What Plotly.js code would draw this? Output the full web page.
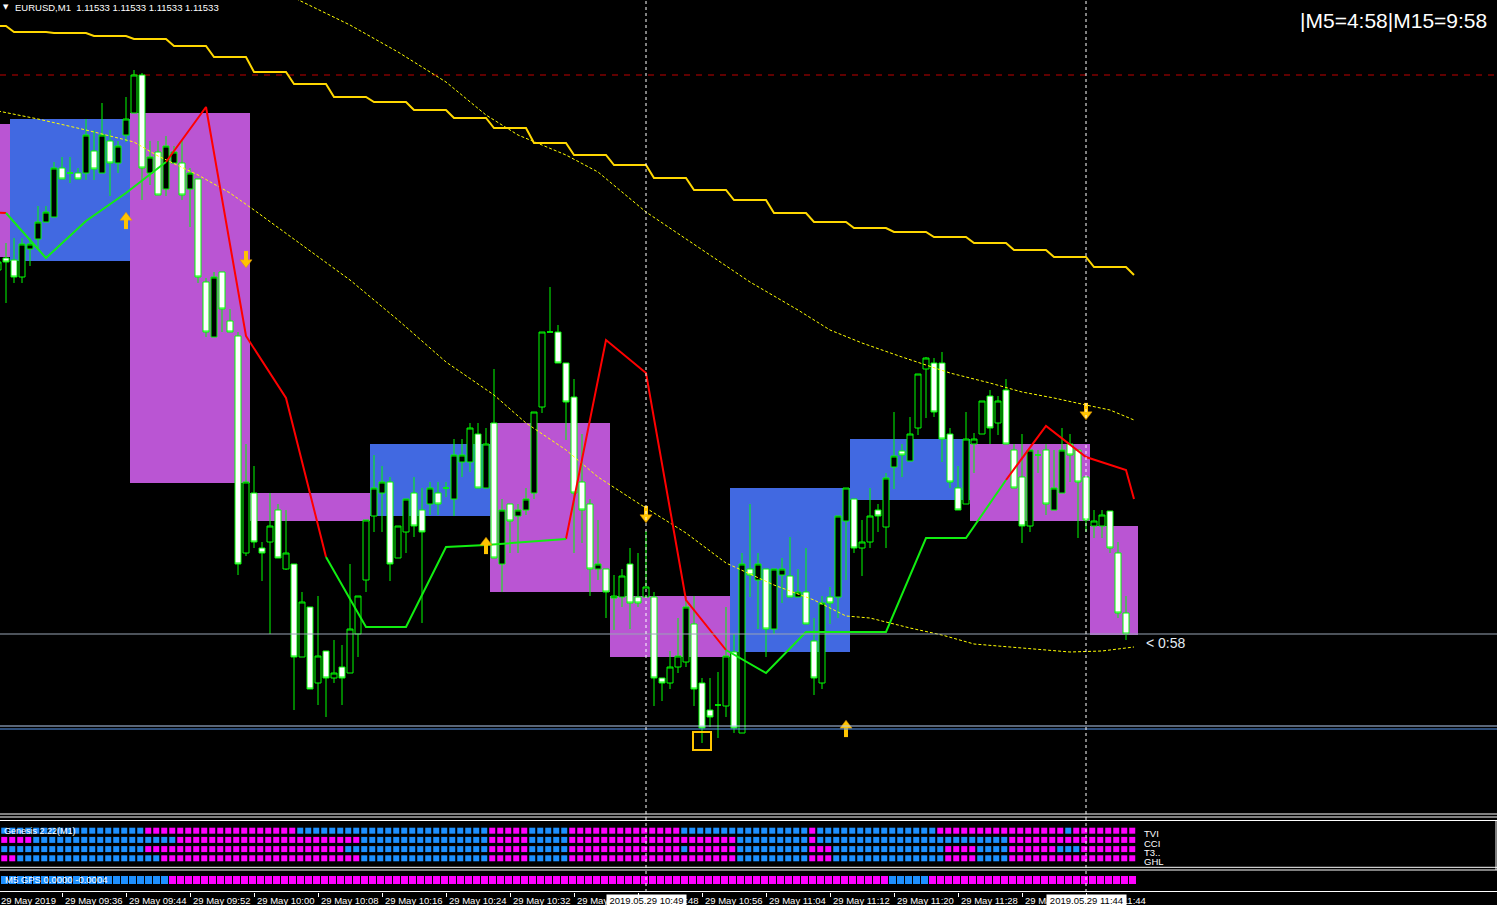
<!DOCTYPE html>
<html><head><meta charset="utf-8">
<script src="https://cdn.plot.ly/plotly-3.0.1.min.js"></script>
<style>html,body{margin:0;padding:0;background:#000;overflow:hidden}#chart{width:1497px;height:905px}</style>
</head><body><div id="chart"></div>
<script>
// ---------------- DATA ----------------
const symbol = "EURUSD,M1";
// bar index 0 = 29 May 2019 09:28 (M1 bars)
const open = [1.11715,1.11721,1.1172,1.117115,1.117255,1.117305,1.11739,1.117415,1.11766,1.117635,
1.117635,1.117635,1.117745,1.117635,1.117795,1.117685,1.117825,1.117935,1.118125,1.117635,
1.11774,1.117555,1.117685,1.117685,1.117555,1.117605,1.11709,1.116815,1.11714,1.116895,
1.11682,1.115735,1.116035,1.11576,1.11579,1.11595,1.115655,1.11568,1.115215,1.115465,
1.115085,1.115245,1.11511,1.115165,1.115135,1.11533,1.1156,1.11592,1.116035,1.11609,
1.11571,1.11584,1.116035,1.11595,1.11598,1.116035,1.11606,1.116005,1.11619,1.11619,
1.11633,1.11606,1.116385,1.11568,1.11598,1.11592,1.11595,1.116035,1.116465,1.11684,
1.11684,1.116685,1.116515,1.11609,1.11598,1.115655,1.115655,1.11551,1.115515,1.11568,
1.115515,1.115515,1.115515,1.11511,1.115085,1.115165,1.11519,1.11538,1.115085,1.11495,
1.114975,1.11497,1.11524,1.114835,1.115655,1.1156,1.115655,1.115355,1.115625,1.11562,
1.115515,1.11554,1.115295,1.115085,1.115515,1.115515,1.115895,1.116005,1.11576,1.11579,
1.11595,1.115865,1.116165,1.116245,1.116195,1.11636,1.116655,1.116685,1.116685,1.11633,
1.11606,1.11598,1.11628,1.11633,1.11652,1.116385,1.11655,1.11625,1.116115,1.11587,
1.116225,1.11625,1.11595,1.116035,1.11628,1.11625,1.116115,1.11587,1.11587,1.115945,
1.115735,1.115435];
const high = [1.117225,1.117285,1.11731,1.11731,1.11731,1.11747,1.11747,1.11769,1.117715,1.117715,
1.11766,1.117905,1.11785,1.117985,1.11785,1.117795,1.118015,1.11815,1.118135,1.117795,
1.117795,1.11782,1.11777,1.117795,1.11766,1.117605,1.11711,1.11714,1.11714,1.116955,
1.11684,1.11628,1.11617,1.11579,1.116035,1.11598,1.11595,1.11568,1.11554,1.115465,
1.11552,1.115245,1.1153,1.115275,1.11568,1.11552,1.1159,1.116225,1.11617,1.116115,
1.11587,1.116005,1.116115,1.11606,1.11609,1.11609,1.11609,1.116305,1.116305,1.116385,
1.116385,1.11636,1.116655,1.116005,1.11598,1.11598,1.11606,1.11644,1.11684,1.117065,
1.116875,1.116685,1.116605,1.11633,1.116005,1.1159,1.115655,1.115625,1.115655,1.11576,
1.115735,1.115845,1.11554,1.11511,1.115245,1.11541,1.115515,1.11552,1.11511,1.11511,
1.11514,1.115465,1.11533,1.115735,1.11598,1.115735,1.115655,1.115655,1.11571,1.115815,
1.115655,1.11576,1.11541,1.11552,1.115565,1.11592,1.11606,1.116005,1.1159,1.11606,
1.11598,1.116135,1.11644,1.11628,1.116415,1.11663,1.116715,1.11671,1.11674,1.11636,
1.11617,1.11644,1.116335,1.116495,1.11655,1.11652,1.116605,1.11628,1.11633,1.11625,
1.11625,1.11628,1.11625,1.11636,1.11633,1.11625,1.116115,1.11595,1.11595,1.115945,
1.11579,1.11552];
const low = [1.117075,1.116985,1.117085,1.117085,1.11717,1.11726,1.11739,1.117415,1.117605,1.117585,
1.117605,1.1176,1.1176,1.117635,1.11752,1.117635,1.11779,1.117935,1.1175,1.117575,
1.117525,1.11752,1.117685,1.1175,1.117365,1.117085,1.116815,1.116815,1.11684,1.11684,
1.115625,1.11572,1.11576,1.115595,1.11533,1.11571,1.11565,1.11495,1.115215,1.115055,
1.114975,1.114915,1.115085,1.114975,1.115135,1.115215,1.11554,1.11584,1.11584,1.115595,
1.11571,1.115735,1.115815,1.115385,1.115925,1.115925,1.116015,1.11592,1.116115,1.11614,
1.11606,1.11606,1.11571,1.11554,1.115735,1.115735,1.115925,1.116005,1.116435,1.11684,
1.116685,1.1163,1.115735,1.115785,1.11552,1.1156,1.11541,1.11535,1.115465,1.115355,
1.115465,1.115515,1.11497,1.114995,1.115055,1.115135,1.115165,1.11497,1.114785,1.114865,
1.11481,1.114915,1.114835,1.114835,1.115515,1.115355,1.115215,1.11533,1.115485,1.115515,
1.115515,1.11538,1.115025,1.115055,1.11538,1.11541,1.1156,1.115735,1.11562,1.11576,
1.11584,1.11576,1.116055,1.116115,1.116195,1.116325,1.11641,1.116415,1.11619,1.11606,
1.11595,1.11598,1.116135,1.11633,1.11628,1.116325,1.11628,1.11606,1.115785,1.11584,
1.116135,1.115925,1.11595,1.116035,1.11609,1.11581,1.11584,1.11581,1.11581,1.115735,
1.11541,1.1153];
const close = [1.11719,1.11719,1.117115,1.11728,1.11728,1.11739,1.11744,1.11766,1.117605,1.117635,
1.117605,1.117825,1.117655,1.117825,1.117685,1.11777,1.117905,1.118125,1.11766,1.117715,
1.117525,1.11777,1.11774,1.117525,1.117635,1.117115,1.11684,1.117115,1.116955,1.11684,
1.11568,1.11609,1.11579,1.115735,1.11587,1.11571,1.115735,1.115215,1.11549,1.115055,
1.11522,1.11511,1.115135,1.11511,1.115355,1.11552,1.1159,1.11606,1.11609,1.11568,
1.11587,1.116005,1.11587,1.11584,1.11606,1.11598,1.11606,1.116225,1.116225,1.11636,
1.11606,1.11628,1.11571,1.11595,1.115895,1.11595,1.116005,1.11644,1.11684,1.11684,
1.116685,1.11649,1.116035,1.11595,1.115655,1.11568,1.11554,1.11552,1.11562,1.115485,
1.115485,1.115565,1.11511,1.115085,1.115165,1.11522,1.115465,1.115055,1.11486,1.114915,
1.114975,1.11522,1.11486,1.11568,1.115625,1.11568,1.115355,1.115655,1.115655,1.115515,
1.11554,1.11538,1.11511,1.115485,1.115485,1.11592,1.11606,1.11576,1.11579,1.11592,
1.11592,1.11611,1.11622,1.116225,1.11633,1.11663,1.11671,1.11644,1.116305,1.11609,
1.11595,1.116305,1.116305,1.116495,1.11636,1.116495,1.11628,1.11606,1.11587,1.11625,
1.116225,1.11598,1.11606,1.11625,1.116225,1.11609,1.1159,1.115895,1.115925,1.11576,
1.115435,1.11533];

// M15 boxes (first bar, last bar, high, low, bullish?)
const boxFirst = [-13, 2, 17, 32, 47, 62, 77, 92, 107, 122, 137];
const boxLast  = [1, 16, 31, 46, 61, 76, 91, 106, 121, 136, 142];
const boxHigh  = [1.11788,1.117905,1.117935,1.116035,1.11628,1.116385,1.11552,1.11606,1.116305,1.11628,1.11587];
const boxLow   = [1.117215,1.117195,1.116085,1.115895,1.11592,1.11554,1.115215,1.11524,1.116,1.115895,1.115325];
const boxBull  = [0,1,0,0,1,0,0,1,1,0,0];

// trend line (M5 nodes) and segment direction (1 = down/red, 0 = up/green)
const trendBars = [-4,1,6,11,16,21,26,31,36,41,46,51,56,61,66,71,76,81,86,91,96,101,106,111,116,121,126,131,136,141,142];
const trendVals = [1.117445,1.117435,1.11721,1.117395,1.117535,1.11769,1.117965,1.11682,1.11651,1.115715,1.115365,1.115365,1.115765,1.115775,1.11579,1.115805,1.1168,1.116635,1.1155,1.11525,1.115135,1.11534,1.11534,1.11534,1.11581,1.11581,1.1161,1.11637,1.116215,1.11615,1.116005];
const trendDown = [1,0,0,0,0,1,1,1,1,0,0,0,0,0,0,1,1,1,1,0,0,0,0,0,0,0,1,1,1,1];

// M5 stepped moving average, one value per M5 period (first period starts at bar -3)
const m5FirstBar = -3;
const m5Ma = [1.11837,1.11834,1.118335,1.11832,1.118305,1.11827,1.118215,1.11814,1.11808,1.118015,1.11799,1.11795,1.11791,1.11786,1.117785,1.117725,1.117675,1.11761,1.11755,1.1175,1.117435,1.11739,1.11736,1.11734,1.117315,1.117285,1.11725,1.117215,1.117165,1.117125];

// two dotted moving averages
const maFastBars = [0,5,11,17,20,25,29,32,44,50,56,62,66,71,75,80,86,91,97,102,106,109,114,118,122,128,134,138,142];
const maFastVals = [1.117945,1.117905,1.11785,1.11779,1.11772,1.117625,1.117535,1.11745,1.1171,1.1169,1.11669,1.116525,1.116385,1.11625,1.116115,1.115985,1.115835,1.115685,1.115575,1.1155,1.11542,1.11541,1.11536,1.115325,1.11528,1.11526,1.11524,1.115245,1.115265];
const maSlowBars = [35,44,50,56,61,65,71,75,81,88,94,100,104,108,113,119,124,128,132,136,139,142];
const maSlowVals = [1.11855,1.118375,1.11824,1.11809,1.117925,1.117825,1.117725,1.11764,1.11744,1.11725,1.11709,1.11695,1.11685,1.116785,1.116715,1.116635,1.116585,1.11654,1.11651,1.116475,1.11645,1.1164];

// horizontal levels
const bidPrice = 1.11533;
const supportLevels = [1.11487, 1.114855];
const resistLevel = 1.118125;

// signal arrows and marker
const upBars = [16, 61, 106];
const upVals = [1.1174, 1.115775, 1.11486];
const downBars = [31, 81, 136];
const downVals = [1.1172, 1.115925, 1.11644];
const boxMarkBar = 88, boxMarkVal = 1.114795;

// crosshair bars
const crossBars = [81, 136];
const crossText = ["2019.05.29 10:49", "2019.05.29 11:44"];

// time axis
const tickBars = [8,16,24,32,40,48,56,64,72,80,88,96,104,112,120,128,136];
const tickText = ["29 May 09:36","29 May 09:44","29 May 09:52","29 May 10:00","29 May 10:08","29 May 10:16","29 May 10:24","29 May 10:32","29 May 10:40","29 May 10:48","29 May 10:56","29 May 11:04","29 May 11:12","29 May 11:20","29 May 11:28","29 May 11:36","29 May 11:44"];
const firstLabel = "29 May 2019";

// Genesis rows (run length: [state, count], 1 = magenta, 0 = blue)
const genRows = ["TVI","CCI","T3..","GHL"];
const tviRuns = [[0,18],[1,19],[0,24],[1,5],[0,5],[1,14],[0,16],[1,1],[0,15],[1,16],[0,1],[1,8]];
const cciRuns = [[1,4],[0,18],[1,23],[0,16],[1,5],[0,5],[1,21],[0,9],[1,1],[0,24],[1,16]];
const t3Runs  = [[0,18],[1,25],[0,18],[1,5],[0,5],[1,14],[0,1],[1,6],[0,9],[1,3],[0,14],[1,4],[0,4],[1,6],[0,3],[1,7]];
const ghlRuns = [[1,2],[0,18],[1,25],[0,16],[1,5],[0,5],[1,21],[0,9],[1,3],[0,14],[1,4],[0,4],[1,16]];
const gpsRuns = [[0,21],[1,90],[0,5],[1,26]];
const gpsText = "M5 GPS 0.0000 -0.0004";
const genesisName = "Genesis 2.22(M1)";
const timerText = "|M5=4:58|M15=9:58";
const barTimer = "< 0:58";

// ---------------- STYLE / LAYOUT ----------------
const W = 1497, H = 905;
const Y_TOP = 1.1185, Y_BOT = 1.114425, MAIN_H = 815;
const ppx = (Y_TOP - Y_BOT) / MAIN_H;
const X0 = 0.25, X1 = 187.375;
const py = p => 1 - p / H;
const pxp = p => p / W;
const LIME = '#00FF00', GOLD = '#FFC400', BLUE = '#1E90FF', MAG = '#FF00FF';
const FONT = 'Liberation Sans, Arial, sans-serif';
const sqShift = 0.78;

const bars = open.map((_, i) => i);
const traces = [];

traces.push({type:'candlestick', x:bars, open, high, low, close, xaxis:'x', yaxis:'y',
  whiskerwidth:0, hoverinfo:'skip',
  increasing:{line:{color:LIME, width:1}, fillcolor:'#000000'},
  decreasing:{line:{color:LIME, width:1}, fillcolor:'#FFFFFF'}});

traces.push({type:'scatter', mode:'lines', x:maFastBars, y:maFastVals, line:{color:'#FFFF00', width:1, dash:'3px,2px'}, hoverinfo:'skip'});
traces.push({type:'scatter', mode:'lines', x:maSlowBars, y:maSlowVals, line:{color:'#FFFF00', width:1, dash:'3px,2px'}, hoverinfo:'skip'});

// stepped M5 MA
const lastBar = 142;
const gx = [], gy = [];
m5Ma.forEach((v, k) => {
  const s = m5FirstBar + 5 * k;
  const e = Math.min(s + 4, lastBar);
  gx.push(s); gy.push(v);
  if (e > s) { gx.push(e); gy.push(v); }
});
traces.push({type:'scatter', mode:'lines', x:gx, y:gy, line:{color:'#FFD700', width:2}, hoverinfo:'skip'});

// trend line split by colour
function trendPart(flag) {
  const xs = [], ys = [];
  let prev = false;
  for (let j = 0; j < trendDown.length; j++) {
    if (trendDown[j] === flag) {
      if (!prev) { xs.push(trendBars[j]); ys.push(trendVals[j]); }
      xs.push(trendBars[j + 1]); ys.push(trendVals[j + 1]);
      prev = true;
    } else {
      if (prev) { xs.push(null); ys.push(null); }
      prev = false;
    }
  }
  return {xs, ys};
}
const tr = trendPart(1), tg = trendPart(0);
traces.push({type:'scatter', mode:'lines', x:tr.xs, y:tr.ys, line:{color:'#FF0000', width:2}, hoverinfo:'skip', connectgaps:false});
traces.push({type:'scatter', mode:'lines', x:tg.xs, y:tg.ys, line:{color:'#11EE11', width:2}, hoverinfo:'skip', connectgaps:false});

// arrows
traces.push({type:'scatter', mode:'markers', x:upBars, y:upVals.map(v => v + 2.5 * ppx), marker:{symbol:'triangle-up', size:10.5, color:GOLD, line:{width:0.5, color:'#E09000'}}, hoverinfo:'skip'});
traces.push({type:'scatter', mode:'markers', x:upBars, y:upVals.map(v => v - 3.5 * ppx), marker:{symbol:'line-ns', size:8, color:GOLD, line:{width:4, color:GOLD}}, hoverinfo:'skip'});
traces.push({type:'scatter', mode:'markers', x:downBars, y:downVals.map(v => v - 2.5 * ppx), marker:{symbol:'triangle-down', size:10.5, color:GOLD, line:{width:0.5, color:'#E09000'}}, hoverinfo:'skip'});
traces.push({type:'scatter', mode:'markers', x:downBars, y:downVals.map(v => v + 3.5 * ppx), marker:{symbol:'line-ns', size:8, color:GOLD, line:{width:4, color:GOLD}}, hoverinfo:'skip'});
traces.push({type:'scatter', mode:'markers', x:[boxMarkBar], y:[boxMarkVal], marker:{symbol:'square-open', size:18, color:GOLD, line:{width:2, color:GOLD}}, hoverinfo:'skip'});

// Genesis panel
function expand(runs) { const out = []; runs.forEach(([s, n]) => { for (let i = 0; i < n; i++) out.push(s); }); return out; }
[tviRuns, cciRuns, t3Runs, ghlRuns].forEach((runs, r) => {
  const states = expand(runs);
  traces.push({type:'scatter', mode:'markers', xaxis:'x', yaxis:'y2',
    x: states.map((_, k) => k + sqShift), y: states.map(() => genRows[r]),
    marker:{symbol:'square', size:6, color: states.map(s => s ? MAG : BLUE), line:{width:0}}, hoverinfo:'skip'});
});
const gps = expand(gpsRuns);
traces.push({type:'bar', xaxis:'x', yaxis:'y3', x: gps.map((_, k) => k + sqShift), y: gps.map(() => 1),
  width:0.88, marker:{color: gps.map(s => s ? MAG : BLUE), line:{width:0}}, hoverinfo:'skip'});

// shapes
const shapes = [];
boxFirst.forEach((b, k) => shapes.push({type:'rect', xref:'x', yref:'y', x0:b - 0.5, x1:boxLast[k] + 0.5, y0:boxLow[k], y1:boxHigh[k],
  fillcolor: boxBull[k] ? '#4169E1' : '#BA55D3', line:{width:0}, layer:'below'}));
shapes.push({type:'line', xref:'paper', yref:'y', x0:0, x1:1, y0:resistLevel, y1:resistLevel, line:{color:'#C00000', width:1, dash:'6px,6px'}, layer:'below'});
shapes.push({type:'line', xref:'paper', yref:'y', x0:0, x1:1, y0:bidPrice, y1:bidPrice, line:{color:'#98A4B4', width:1}});
shapes.push({type:'line', xref:'paper', yref:'y', x0:0, x1:1, y0:supportLevels[0], y1:supportLevels[0], line:{color:'#B4CCF0', width:1}});
shapes.push({type:'line', xref:'paper', yref:'y', x0:0, x1:1, y0:supportLevels[1], y1:supportLevels[1], line:{color:'#5A9AF0', width:1}});
crossBars.forEach(b => shapes.push({type:'line', xref:'x', yref:'paper', x0:b, x1:b, y0:py(892), y1:1, line:{color:'#FFFFFF', width:1, dash:'3px,3px'}}));
[814, 817, 820.5, 867.3, 870, 891.5].forEach(p => shapes.push({type:'line', xref:'paper', yref:'paper', x0:0, x1:1, y0:py(p), y1:py(p), line:{color:'#FFFFFF', width:1}}));
shapes.push({type:'line', xref:'paper', yref:'paper', x0:pxp(1496), x1:pxp(1496), y0:py(870), y1:py(820.5), line:{color:'#FFFFFF', width:1}});

// annotations
const ann = [];
const A = (o) => ann.push(Object.assign({showarrow:false, font:{family:FONT, size:9.5, color:'#FFFFFF'}}, o));
A({xref:'paper', yref:'paper', x:pxp(1), y:py(6.5), xanchor:'left', yanchor:'middle', text:'▼', font:{family:'DejaVu Sans', size:7, color:'#FFFFFF'}});
const lastC = close[close.length - 1].toFixed(5);
A({xref:'paper', yref:'paper', x:pxp(13), y:py(7), xanchor:'left', yanchor:'middle', text: symbol + '\u00a0\u00a0' + [lastC, lastC, lastC, lastC].join(' '), font:{family:FONT, size:9.5, color:'#FFFFFF'}});
A({xref:'paper', yref:'paper', x:pxp(1489), y:py(21), xanchor:'right', yanchor:'middle', text: timerText, font:{family:FONT, size:21, color:'#FFFFFF'}});
A({xref:'paper', yref:'paper', x:pxp(1144), y:py(642.5), xanchor:'left', yanchor:'middle', text: barTimer, font:{family:FONT, size:14, color:'#E4ECF4'}});
A({xref:'paper', yref:'paper', x:pxp(2), y:py(831), xanchor:'left', yanchor:'middle', text: genesisName, font:{family:FONT, size:9, color:'#FFFFFF'}});
[833.3, 843.3, 852, 861.7].forEach((p, r) => A({xref:'paper', yref:'paper', x:pxp(1142), y:py(p), xanchor:'left', yanchor:'middle', text: genRows[r], font:{family:FONT, size:9.5, color:'#FFFFFF'}}));
A({xref:'paper', yref:'paper', x:pxp(2.5), y:py(879.5), xanchor:'left', yanchor:'middle', text: gpsText, font:{family:FONT, size:9.5, color:'#FFFFFF'}});
A({xref:'paper', yref:'paper', x:pxp(-1.5), y:py(900.5), xanchor:'left', yanchor:'middle', text:firstLabel});
tickBars.forEach((b, k) => A({xref:'x', yref:'paper', x:b, y:py(900.5), xanchor:'left', yanchor:'middle', xshift:0.5, text:tickText[k]}));
crossBars.forEach((b, k) => A({xref:'x', yref:'paper', x:b, y:py(900.5), xanchor:'center', yanchor:'middle', text:crossText[k], bgcolor:'#FFFFFF', width:79, height:11, borderpad:0, font:{family:FONT, size:9.5, color:'#000000'}}));

const layout = {
  width:W, height:H, margin:{l:0, r:0, t:0, b:0}, paper_bgcolor:'#000000', plot_bgcolor:'#000000',
  showlegend:false, boxgap:0.25, boxgroupgap:0, bargap:0,
  xaxis:{range:[X0, X1], showgrid:false, zeroline:false, showticklabels:false, ticks:'outside', ticklen:4, tickwidth:1, tickcolor:'#FFFFFF',
    tickmode:'array', tickvals:tickBars, anchor:'free', position:py(891.5), rangeslider:{visible:false}, showline:false},
  yaxis:{domain:[py(MAIN_H), 1], range:[Y_BOT, Y_TOP], visible:false, showgrid:false, zeroline:false},
  yaxis2:{domain:[py(862.9), py(826.1)], type:'category', categoryorder:'array', categoryarray:['GHL','T3..','CCI','TVI'], range:[-0.5, 3.5], visible:false, showgrid:false},
  yaxis3:{domain:[py(884.3), py(875.7)], range:[0, 1], visible:false, showgrid:false},
  shapes, annotations: ann
};
Plotly.newPlot('chart', traces, layout, {staticPlot:true, displayModeBar:false});
</script></body></html>
